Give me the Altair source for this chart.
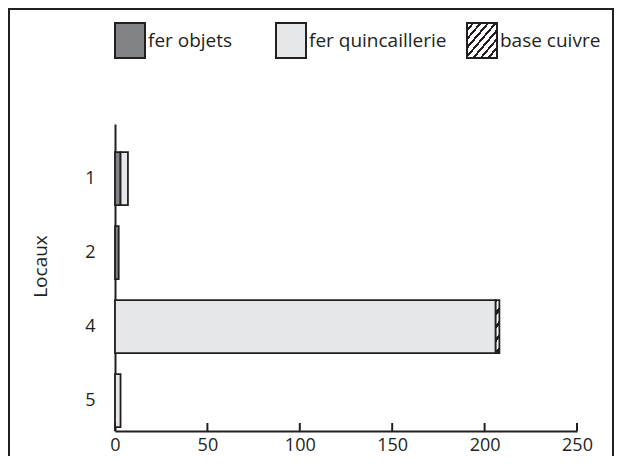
import json
import altair as alt
import pandas as pd

locaux = ["1", "1", "2", "4", "4", "5"]
types = ["fer objets", "fer quincaillerie", "fer objets", "fer quincaillerie", "base cuivre", "fer quincaillerie"]
values = [3, 4, 2, 206, 2, 3]
type_order = ["fer objets", "fer quincaillerie", "base cuivre"]
y_cats = ["1", "2", "4", "5"]
x_ticks = [0, 50, 100, 150, 200, 250]

INK = "#231f20"
FONT = "Open Sans"
W, H = 462, 307

df = pd.DataFrame({"local": locaux, "type": types, "value": values})
df["ord"] = df["type"].map({t: i for i, t in enumerate(type_order)})

# diagonal hatch as a striped linear gradient
n = 8
stops = []
for i in range(n):
    stops += [
        {"offset": i / n, "color": "#ffffff"},
        {"offset": (i + 0.65) / n, "color": "#ffffff"},
        {"offset": (i + 0.65) / n, "color": INK},
        {"offset": (i + 1) / n, "color": INK},
    ]
hatch = {"gradient": "linear", "x1": 0, "y1": 0, "x2": 1, "y2": 1, "stops": stops}
hatch_expr = json.dumps(hatch)

pad = "  \u2800"
bars = alt.Chart(df).mark_bar(stroke=INK, strokeWidth=1.8, opacity=1).encode(
    x=alt.X("value:Q", stack="zero",
            scale=alt.Scale(domain=[0, 250], nice=False),
            axis=alt.Axis(values=x_ticks, title=None, ticks=False, grid=False,
                          domainColor=INK, domainWidth=2, labelFontSize=18,
                          labelColor=INK, labelPadding=5, labelFont=FONT,
                          labelFlush=False)),
    y=alt.Y("local:N", sort=y_cats,
            scale=alt.Scale(domain=y_cats, paddingInner=0.284, paddingOuter=0.216, align=0.88),
            axis=alt.Axis(title="Locaux", ticks=False, grid=False, domainColor=INK,
                          domainWidth=2, labelFontSize=18, labelColor=INK,
                          labelPadding=20, labelFont=FONT, titleFont=FONT,
                          titleFontSize=19, titleFontWeight="normal", titleColor=INK,
                          titlePadding=34, titleY=142)),
    color=alt.Color("type:N",
                    scale=alt.Scale(domain=type_order,
                                    range=["#808285", "#e6e7e8", alt.ExprRef(hatch_expr)]),
                    legend=alt.Legend(title=None, orient="none", direction="horizontal",
                                      legendX=-6, legendY=-102,
                                      symbolType="M-0.714,-1H1V1H-0.714Z",
                                      symbolSize=1225, symbolStrokeColor=INK,
                                      symbolStrokeWidth=2, symbolOpacity=1,
                                      labelFontSize=19, labelColor=INK, labelFont=FONT,
                                      labelOffset=2, columnPadding=14,
                                      labelExpr=f"datum.label == 'fer objets' ? datum.label + '{pad}' : datum.label")),
    order=alt.Order("ord:Q"),
)

tick_df = pd.DataFrame({"t": x_ticks})
ticks = alt.Chart(tick_df).mark_rule(color=INK, strokeWidth=2).encode(
    x=alt.X("t:Q"),
    y=alt.value(H - 8),
    y2=alt.value(H),
)

frame = alt.Chart(pd.DataFrame({"a": [0]})).mark_rect(
    fillOpacity=0, stroke=INK, strokeWidth=2
).encode(
    x=alt.value(-106), x2=alt.value(498),
    y=alt.value(-115), y2=alt.value(H + 60),
)

chart = alt.layer(frame, bars, ticks).properties(
    width=W, height=H,
    background="white",
    autosize=alt.AutoSizeParams(type="none"),
    padding={"left": 107, "top": 116, "right": 38, "bottom": 25},
).configure_view(strokeOpacity=0, strokeWidth=0)

chart.save("out.html", embed_options={"renderer": "svg", "actions": False})
